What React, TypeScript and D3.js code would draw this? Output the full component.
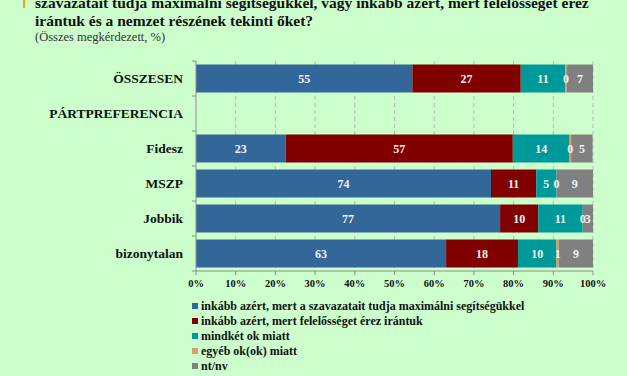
import React from "react";
import * as d3 from "d3";

const categories = ["ÖSSZESEN", "PÁRTPREFERENCIA", "Fidesz", "MSZP", "Jobbik", "bizonytalan"];
const seriesNames = [
  "inkább azért, mert a szavazatait tudja maximálni segítségükkel",
  "inkább azért, mert felelősséget érez irántuk",
  "mindkét ok miatt",
  "egyéb ok(ok) miatt",
  "nt/nv",
];
const seriesColors = ["#336699", "#800000", "#009999", "#D99B5F", "#808080"];
const legendColors = ["#336699", "#800000", "#009999", "#D4A06A", "#808080"];

const blueValues: (number | null)[] = [54.5, null, 22.6, 74.3, 76.6, 63.0];
const redValues: (number | null)[] = [27.3, null, 57.2, 11.4, 9.6, 18.1];
const tealValues: (number | null)[] = [11.2, null, 14.3, 5.1, 11.2, 9.7];
const orangeValues: (number | null)[] = [0.4, null, 0.4, 0.0, 0.0, 0.6];
const grayValues: (number | null)[] = [6.6, null, 5.4, 9.2, 2.6, 8.6];

const xTicks = [0, 10, 20, 30, 40, 50, 60, 70, 80, 90, 100];

const titleLines = [
  "szavazatait tudja maximálni segítségükkel, vagy inkább azért, mert felelősséget érez",
  "irántuk és a nemzet részének tekinti őket?",
];
const subtitle = "(Összes megkérdezett, %)";

const W = 627;
const H = 376;
const serif = "'Liberation Serif', 'DejaVu Serif', serif";

export default function App() {
  const allSeries = [blueValues, redValues, tealValues, orangeValues, grayValues];
  const x = d3.scaleLinear().domain([0, 100]).range([196, 593]);
  const y = d3
    .scaleBand<string>()
    .domain(categories)
    .range([61, 271])
    .paddingInner(0.2)
    .paddingOuter(0.1);

  const step = y.step();
  const boundaries = d3.range(categories.length + 1).map((i) => 61 + i * step);

  const segments: { cat: string; i: number; x0: number; x1: number; v: number }[] = [];
  categories.forEach((cat, ci) => {
    let acc = 0;
    allSeries.forEach((s, si) => {
      const v = s[ci];
      if (v === null) return;
      segments.push({ cat, i: si, x0: acc, x1: acc + v, v });
      acc += v;
    });
  });

  return (
    <svg
      width={W}
      height={H}
      style={{ position: "absolute", left: 0, top: 0, fontFamily: serif }}
    >
      <rect x={0} y={0} width={W} height={H} fill="#CCFFCC" />
      <rect x={23} y={0} width={2} height={8} fill="#E8A317" />
      {titleLines.map((t, i) => (
        <text key={i} x={35} y={8 + i * 18} fontSize={15.5} fontWeight="bold" fill="#111" style={{ fontFamily: serif }}>
          {t}
        </text>
      ))}
      <text x={35} y={41} fontSize={12.5} fill="#333" style={{ fontFamily: serif }}>
        {subtitle}
      </text>

      {/* grid */}
      {xTicks.slice(1).map((t) => (
        <line
          key={t}
          x1={x(t)}
          x2={x(t)}
          y1={61}
          y2={271}
          stroke="#B8B8B8"
          strokeDasharray="4,3"
          strokeWidth={1}
        />
      ))}

      {/* bars */}
      {segments.map((s, k) => (
        <rect
          key={k}
          x={x(s.x0)}
          y={y(s.cat)!}
          width={Math.max(0, x(s.x1) - x(s.x0))}
          height={y.bandwidth()}
          fill={seriesColors[s.i]}
        />
      ))}
      {segments.map((s, k) => (
        <text
          key={"l" + k}
          x={(x(s.x0) + x(s.x1)) / 2}
          y={y(s.cat)! + y.bandwidth() / 2}
          dy="0.35em"
          textAnchor="middle"
          fontSize={12}
          fontWeight="bold"
          fill="#F2F2F2"
          style={{ fontFamily: serif }}
        >
          {Math.round(s.v)}
        </text>
      ))}

      {/* axes */}
      <line x1={196} x2={196} y1={61} y2={271} stroke="#8C8C8C" />
      {boundaries.map((b, i) => (
        <line key={i} x1={192} x2={196} y1={b} y2={b} stroke="#8C8C8C" />
      ))}
      <line x1={196} x2={593} y1={271} y2={271} stroke="#8C8C8C" />
      {xTicks.map((t) => (
        <g key={t}>
          <line x1={x(t)} x2={x(t)} y1={271} y2={275} stroke="#8C8C8C" />
          <text
            x={x(t)}
            y={287}
            textAnchor="middle"
            fontSize={10.5}
            fontWeight="bold"
            fill="#111"
            style={{ fontFamily: serif }}
          >
            {t + "%"}
          </text>
        </g>
      ))}
      {categories.map((c) => (
        <text
          key={c}
          x={183}
          y={y(c)! + y.bandwidth() / 2}
          dy="0.35em"
          textAnchor="end"
          fontSize={13.5}
          fontWeight="bold"
          fill="#111"
          style={{ fontFamily: serif }}
        >
          {c}
        </text>
      ))}

      {/* legend */}
      {seriesNames.map((n, i) => (
        <g key={n} transform={`translate(192, ${306 + i * 15})`}>
          <rect x={0} y={-3} width={6} height={6} fill={legendColors[i]} />
          <text x={9} y={0} dy="0.35em" fontSize={12} fontWeight="bold" fill="#111" style={{ fontFamily: serif }}>
            {n}
          </text>
        </g>
      ))}
    </svg>
  );
}
